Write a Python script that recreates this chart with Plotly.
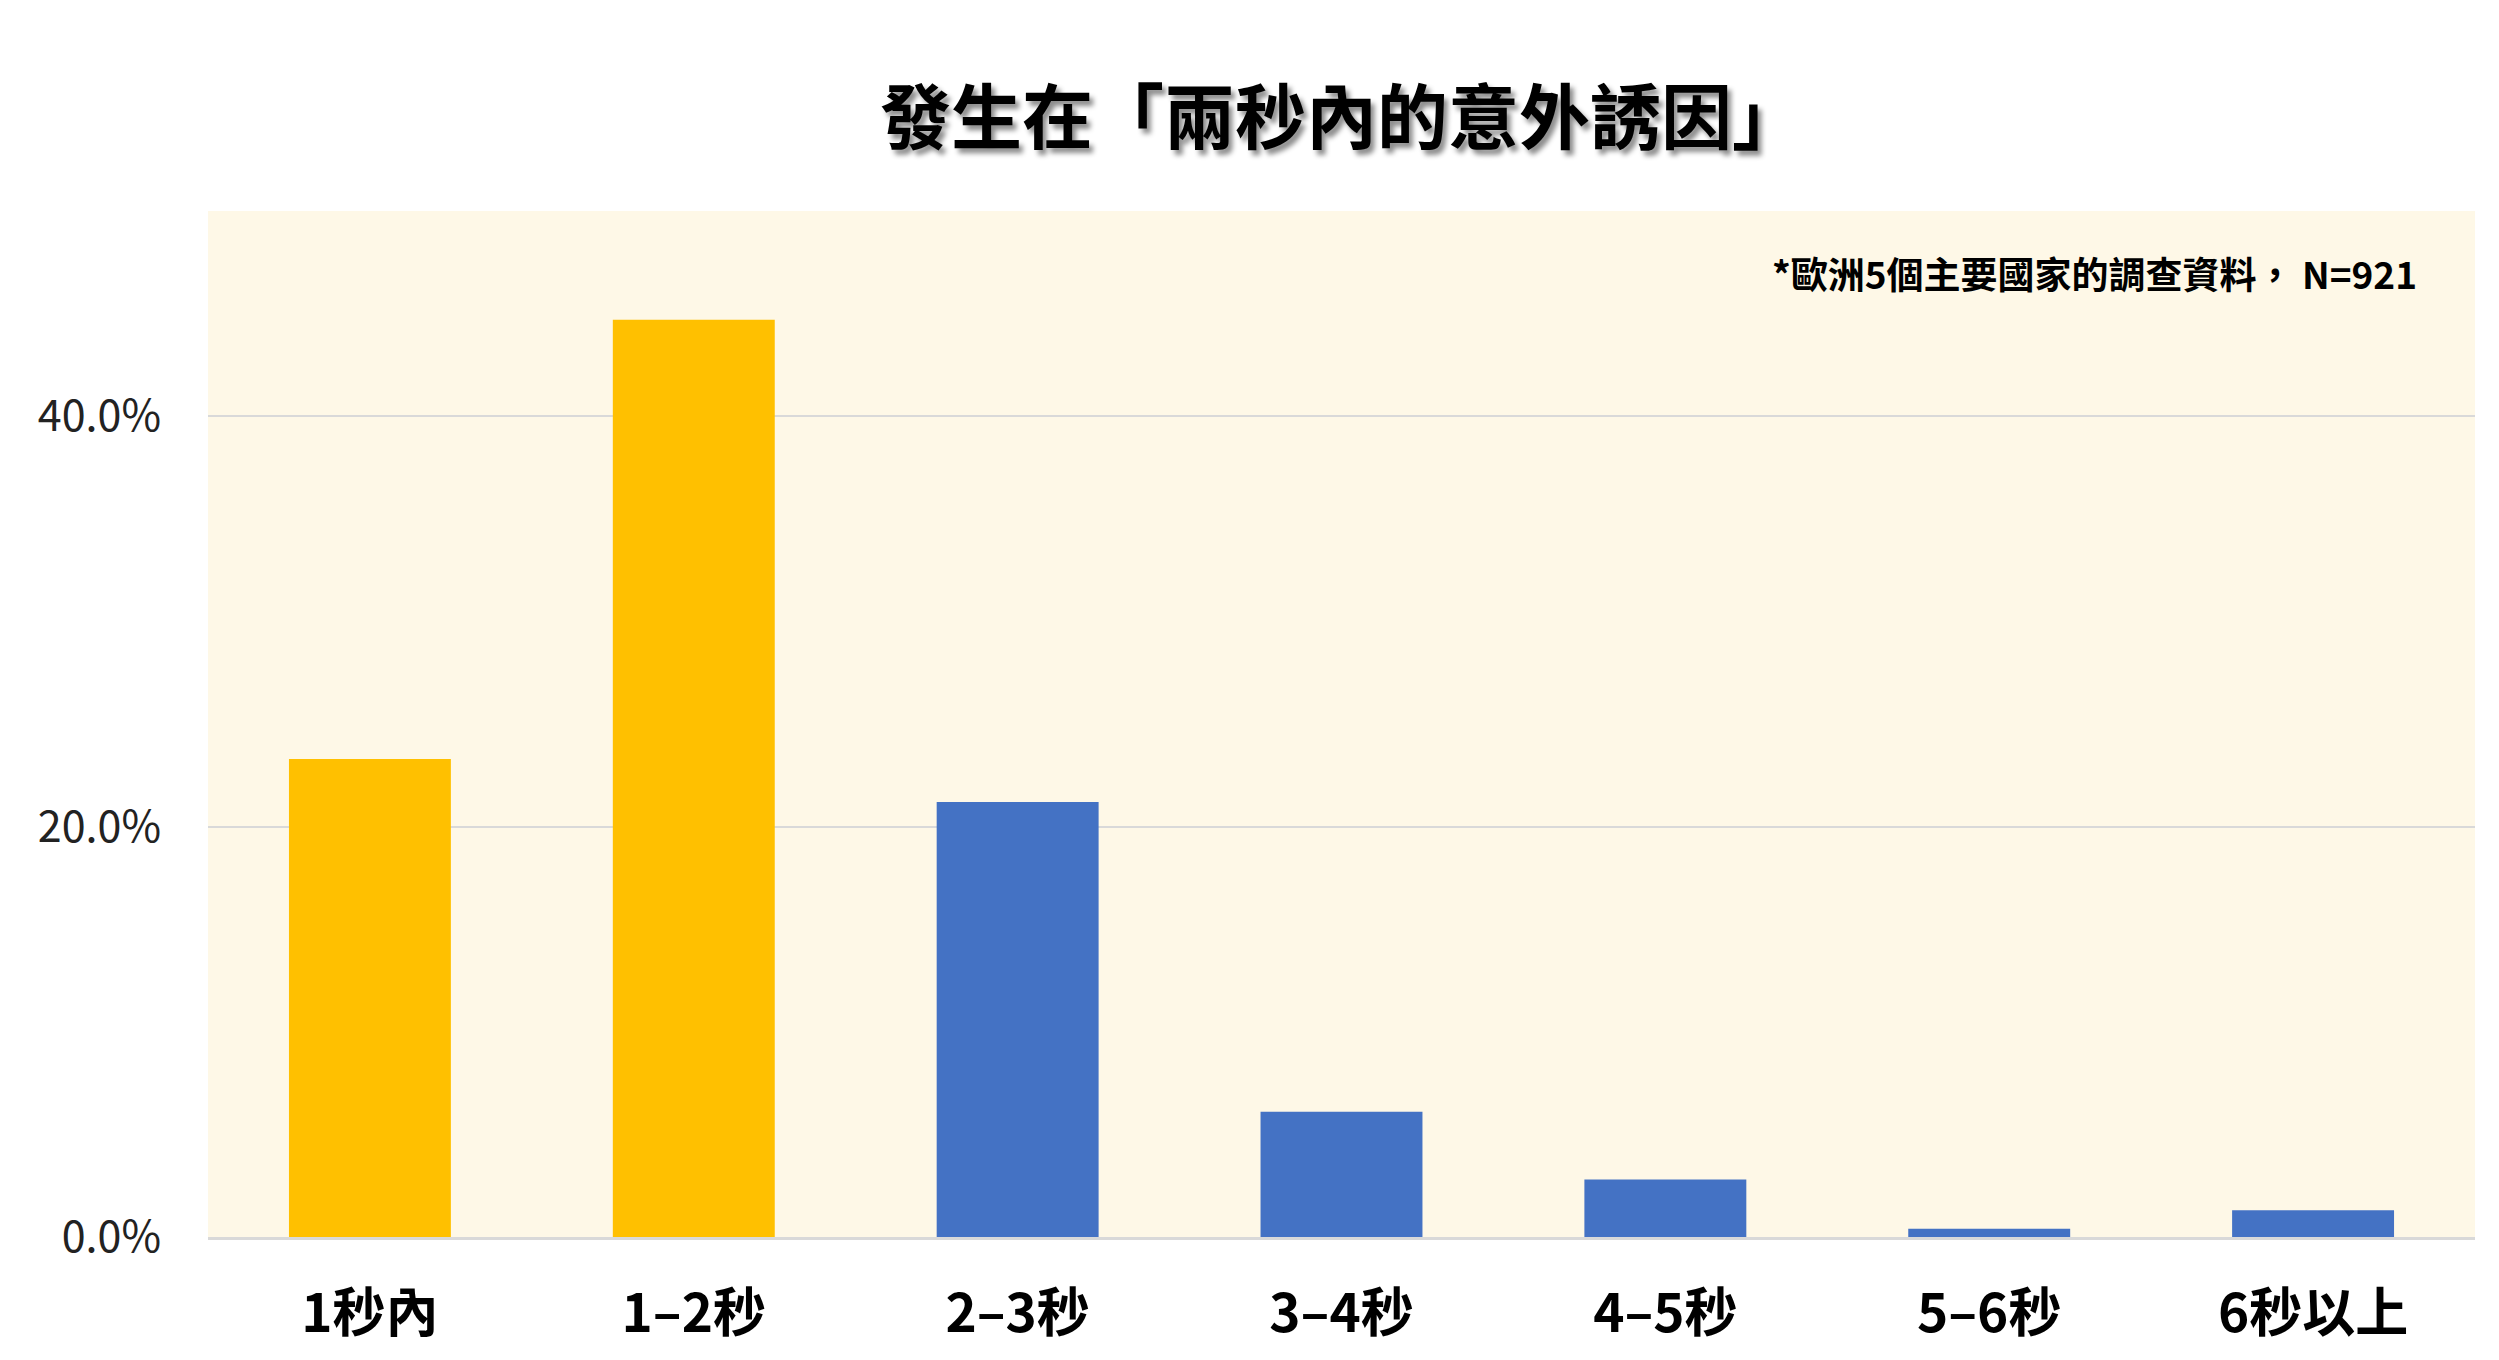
import plotly.graph_objects as go

# ── data ────────────────────────────────────────────────────────────────────
categories = ["1秒內", "1–2秒", "2–3秒", "3–4秒", "4–5秒", "5–6秒", "6秒以上"]
shares = [0.233, 0.447, 0.212, 0.061, 0.028, 0.004, 0.013]
n_highlight = 2  # first two bins = within two seconds

title_text = "發生在「兩秒內的意外誘因」"
note_text = "*歐洲5個主要國家的調查資料， N=921"

YELLOW = "#FFC000"
BLUE = "#4472C4"
colors = [YELLOW if i < n_highlight else BLUE for i in range(len(categories))]

FONT_B = "Noto Sans CJK TC"

fig = go.Figure(
    go.Bar(x=categories, y=shares, marker_color=colors, marker_line_width=0)
)

fig.update_layout(
    width=2499, height=1360,
    margin=dict(l=200, r=32, t=203, b=131),
    paper_bgcolor="white",
    plot_bgcolor="#FEF8E7",
    bargap=0.5,
    showlegend=False,
    title=dict(
        text=title_text, xref="paper", x=0.5, xanchor="center",
        yref="container", y=1 - 110 / 1360, yanchor="middle",
        font=dict(family=FONT_B, size=71, color="black", weight="bold",
                  shadow="4px 5px 5px rgba(0,0,0,0.45)"),
    ),
)

fig.update_xaxes(
    showgrid=False, showline=True, linecolor="#D9D9D9", linewidth=3,
    ticks="", ticklabelstandoff=28,
    tickfont=dict(family=FONT_B, size=53, color="black", weight="bold"),
)
fig.update_yaxes(
    range=[0, 0.5], dtick=0.2, tickformat=".1%",
    showgrid=True, gridcolor="#D9D9D9", gridwidth=2,
    zeroline=False, ticks="", ticklabelstandoff=46,
    tickfont=dict(family="Noto Sans CJK JP", size=43, color="#222222"),
)

fig.add_annotation(
    text=note_text, xref="paper", yref="paper",
    x=0.9755, y=0.94, xanchor="right", yanchor="middle", showarrow=False,
    font=dict(family=FONT_B, size=37, color="black", weight="bold"),
)

fig.write_html("out.html")
